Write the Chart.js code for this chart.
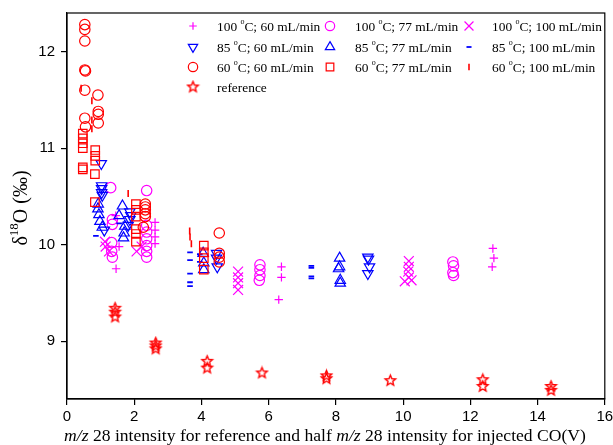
<!DOCTYPE html>
<html>
<head>
<meta charset="utf-8">
<script src="https://cdn.jsdelivr.net/npm/chart.js@4/dist/chart.umd.min.js"></script>
<style>
  html, body { margin: 0; padding: 0; background: #fff; }
</style>
</head>
<body>
<canvas id="chart" width="613" height="445"></canvas>
<script>
// [x, y] pairs per run condition
const c100f60 = [[2.62,10.23],[2.62,10.15],[2.62,10.08],[2.62,10.01],[1.45,10.30],[1.55,9.98],[1.46,9.75],
  [6.38,9.77],[6.38,9.66],[6.30,9.43],[12.67,9.96],[12.70,9.86],[12.65,9.77]];
const c100f77 = [[1.30,10.59],[1.35,10.26],[1.35,10.21],[1.33,10.02],[1.33,9.93],[1.35,9.87],
  [2.37,10.56],[2.37,10.20],[2.37,10.13],[2.37,10.06],[2.37,9.99],[2.37,9.93],[2.37,9.87],
  [5.74,9.79],[5.74,9.74],[5.74,9.68],[5.72,9.63],[11.48,9.82],[11.50,9.78],[11.48,9.71],[11.50,9.68]];
const c100f100 = [[1.13,10.03],[1.15,9.98],[1.25,9.93],[2.07,9.93],[2.22,9.98],
  [5.09,9.72],[5.09,9.66],[5.09,9.60],[5.09,9.53],
  [10.17,9.83],[10.17,9.77],[10.15,9.72],[10.17,9.66],[10.05,9.62],[10.25,9.63]];
const c85f60 = [[1.02,10.84],[1.03,10.61],[1.03,10.58],[1.03,10.54],[1.05,10.51],[1.11,10.15],
  [1.87,10.34],[1.90,10.30],[1.87,10.26],[1.82,10.20],[4.45,9.91],[4.45,9.86],[4.47,9.77],
  [8.95,9.87],[8.97,9.85],[9.00,9.77],[8.95,9.70]];
const c85f77 = [[0.93,10.42],[0.92,10.37],[0.95,10.31],[0.98,10.24],[1.05,10.18],
  [1.65,10.40],[1.55,10.30],[1.72,10.19],[1.70,10.12],[1.68,10.07],
  [4.05,9.91],[4.07,9.81],[4.07,9.74],[8.11,9.86],[8.11,9.77],[8.08,9.75],[8.13,9.63],[8.13,9.60]];
const c85f100 = [[0.86,10.09],[1.55,10.22],[3.66,9.92],[3.66,9.84],[3.66,9.70],[3.66,9.61],[3.66,9.57],
  [3.95,9.90],[3.95,9.82],[7.27,9.78],[7.27,9.76],[7.27,9.67],[7.27,9.65]];
const c60f60 = [[0.53,12.28],[0.53,12.23],[0.53,12.11],[0.53,11.81],[0.55,11.80],[0.53,11.60],[0.53,11.31],[0.55,11.22],
  [0.92,11.55],[0.93,11.38],[0.93,11.35],[0.93,11.26],
  [2.33,10.42],[2.33,10.39],[2.33,10.36],[2.33,10.32],[2.33,10.29],[2.27,10.18],
  [4.53,10.12],[4.53,9.91],[4.53,9.87],[4.53,9.82]];
const c60f77 = [[0.47,11.15],[0.47,11.10],[0.47,11.05],[0.47,11.00],[0.47,10.80],[0.47,10.78],
  [0.84,10.98],[0.84,10.92],[0.84,10.87],[0.83,10.73],[0.83,10.44],
  [2.05,10.42],[2.05,10.36],[2.05,10.29],[2.05,10.16],[2.05,10.11],[2.05,10.03],
  [4.07,9.99],[4.07,9.92],[4.07,9.86],[4.07,9.74]];
const c60f100 = [[0.42,11.62],[0.74,11.49],[0.74,11.29],[0.74,11.20],[1.82,10.53],
  [3.65,10.14],[3.66,10.08],[3.70,10.01]];
const refPts = [[1.43,9.34],[1.43,9.30],[1.43,9.25],[2.64,8.98],[2.64,8.95],[2.64,8.92],
  [4.17,8.79],[4.17,8.72],[5.80,8.67],[7.72,8.64],[7.72,8.61],[9.62,8.59],
  [12.37,8.60],[12.37,8.53],[14.40,8.53],[14.40,8.49]];

const xTicks = [0, 2, 4, 6, 8, 10, 12, 14, 16];
const yTicks = [9, 10, 11, 12];

const MAG = '#ff00ff', BLUE = '#0000ff', RED = '#ff0000';

// outlined five-point star, used as a pointStyle image
function starImage(color, r) {
  const size = Math.ceil(r * 2 + 4);
  const c = document.createElement('canvas');
  c.width = c.height = size;
  const g = c.getContext('2d');
  g.strokeStyle = color;
  g.lineWidth = 1.4;
  g.beginPath();
  for (let i = 0; i < 10; i++) {
    const rr = i % 2 ? r * 0.45 : r;
    const a = -Math.PI / 2 + i * Math.PI / 5;
    const px = size / 2 + rr * Math.cos(a), py = size / 2 + rr * Math.sin(a);
    if (i) g.lineTo(px, py); else g.moveTo(px, py);
  }
  g.closePath();
  g.stroke();
  return c;
}

function series(label, pts, color, style, radius, extra) {
  return Object.assign({
    label,
    data: pts.map(p => ({ x: p[0], y: p[1] })),
    borderColor: color,
    backgroundColor: 'rgba(0,0,0,0)',
    pointStyle: style,
    pointRadius: radius,
    pointBorderWidth: 1.2,
    pointRotation: 0,
    showLine: false
  }, extra || {});
}

const datasets = [
  series('reference', refPts, RED, starImage(RED, 5.5), 6),
  series('60 °C; 100 mL/min', c60f100, RED, 'line', 3.5, { pointRotation: 90, pointBorderWidth: 1.6 }),
  series('60 °C; 77 mL/min', c60f77, RED, 'rect', 6),
  series('60 °C; 60 mL/min', c60f60, RED, 'circle', 5.2),
  series('85 °C; 100 mL/min', c85f100, BLUE, 'line', 2.8, { pointBorderWidth: 1.8 }),
  series('85 °C; 77 mL/min', c85f77, BLUE, 'triangle', 6),
  series('85 °C; 60 mL/min', c85f60, BLUE, 'triangle', 6, { pointRotation: 180 }),
  series('100 °C; 100 mL/min', c100f100, MAG, 'crossRot', 7),
  series('100 °C; 77 mL/min', c100f77, MAG, 'circle', 5.2),
  series('100 °C; 60 mL/min', c100f60, MAG, 'cross', 4.2)
];

// legend grid: column-major, [label, markerX, textX, y]
const legendOrder = [
  ['100 °C; 60 mL/min', 193, 217, 26], ['85 °C; 60 mL/min', 193, 217, 47],
  ['60 °C; 60 mL/min', 193, 217, 67], ['reference', 193, 217, 87],
  ['100 °C; 77 mL/min', 330, 355, 26], ['85 °C; 77 mL/min', 330, 355, 47],
  ['60 °C; 77 mL/min', 330, 355, 67],
  ['100 °C; 100 mL/min', 469, 492, 26], ['85 °C; 100 mL/min', 469, 492, 47],
  ['60 °C; 100 mL/min', 469, 492, 67]
];

const SERIF = '"Liberation Serif", "Times New Roman", serif';

// draws a list of text runs left to right; each run may change font and baseline shift
function drawRuns(ctx, runs, x, y) {
  let cx = x;
  runs.forEach(r => {
    ctx.font = r.font;
    ctx.fillText(r.text, cx, y + (r.dy || 0));
    cx += ctx.measureText(r.text).width;
  });
  return cx - x;
}
function runsWidth(ctx, runs) {
  let w = 0;
  runs.forEach(r => { ctx.font = r.font; w += ctx.measureText(r.text).width; });
  return w;
}

// "100 °C" is typeset with a raised small o
function degreeRuns(label, size) {
  const parts = label.split('°');
  if (parts.length === 1) return [{ text: label, font: size + 'px ' + SERIF }];
  return [
    { text: parts[0], font: size + 'px ' + SERIF },
    { text: 'o', font: Math.round(size * 0.62) + 'px ' + SERIF, dy: -size * 0.38 },
    { text: parts[1], font: size + 'px ' + SERIF }
  ];
}

const decorations = {
  id: 'decorations',
  afterDraw(chart) {
    const { ctx, chartArea: a } = chart;
    ctx.save();
    // closed frame round the plot
    ctx.strokeStyle = '#000';
    ctx.lineWidth = 1.2;
    ctx.strokeRect(a.left, a.top, a.right - a.left, a.bottom - a.top);

    // legend
    ctx.textBaseline = 'middle';
    ctx.textAlign = 'left';
    legendOrder.forEach(([label, mx, tx, y]) => {
      const ds = chart.data.datasets.find(d => d.label === label);
      ctx.strokeStyle = ds.borderColor;
      ctx.fillStyle = 'rgba(0,0,0,0)';
      ctx.lineWidth = ds.pointBorderWidth;
      Chart.helpers.drawPoint(ctx, {
        pointStyle: ds.pointStyle,
        rotation: ds.pointRotation,
        radius: ds.pointRadius * 0.9,
        borderWidth: ds.pointBorderWidth
      }, mx, y);
      ctx.fillStyle = '#000';
      drawRuns(ctx, degreeRuns(label, 13.4), tx, y + 1);
    });

    // x-axis title with italic m/z
    const xRuns = [
      { text: 'm/z', font: 'italic 17.6px ' + SERIF },
      { text: ' 28 intensity for reference and half ', font: '17.6px ' + SERIF },
      { text: 'm/z', font: 'italic 17.6px ' + SERIF },
      { text: ' 28 intensity for injected CO(V)', font: '17.6px ' + SERIF }
    ];
    const xw = runsWidth(ctx, xRuns);
    ctx.fillStyle = '#000';
    drawRuns(ctx, xRuns, 325 - xw / 2, 436);

    // y-axis title, rotated
    const yRuns = [
      { text: 'δ', font: '20px ' + SERIF },
      { text: '18', font: '13px ' + SERIF, dy: -7 },
      { text: 'O (‰)', font: '20px ' + SERIF }
    ];
    const yw = runsWidth(ctx, yRuns);
    ctx.translate(22, 208);
    ctx.rotate(-Math.PI / 2);
    drawRuns(ctx, yRuns, -yw / 2, 0);
    ctx.restore();
  }
};

const tickFont = { family: '"Liberation Sans", Arial, sans-serif', size: 15 };

new Chart(document.getElementById('chart').getContext('2d'), {
  type: 'scatter',
  data: { datasets },
  options: {
    responsive: false,
    animation: false,
    events: [],
    layout: { padding: { top: 13, right: 8, left: 0, bottom: 0 } },
    plugins: { legend: { display: false }, tooltip: { enabled: false } },
    scales: {
      x: {
        type: 'linear',
        min: xTicks[0],
        max: xTicks[xTicks.length - 1],
        afterBuildTicks: s => { s.ticks = xTicks.map(v => ({ value: v })); },
        ticks: { color: '#000', font: tickFont, padding: 3, maxRotation: 0 },
        grid: { drawOnChartArea: false, tickLength: 6, color: '#000', lineWidth: 1.2 },
        border: { color: '#000', width: 1.2 },
        afterFit: s => { s.height = 46; s.paddingLeft = 0; s.paddingRight = 0; }
      },
      y: {
        type: 'linear',
        min: 8.4,
        max: 12.4,
        afterBuildTicks: s => { s.ticks = yTicks.map(v => ({ value: v })); },
        ticks: { color: '#000', font: tickFont, padding: 6 },
        grid: { drawOnChartArea: false, tickLength: 6, color: '#000', lineWidth: 1.2 },
        border: { color: '#000', width: 1.2 },
        afterFit: s => { s.width = 67; s.paddingTop = 0; s.paddingBottom = 0; }
      }
    }
  },
  plugins: [decorations]
});
</script>
</body>
</html>
